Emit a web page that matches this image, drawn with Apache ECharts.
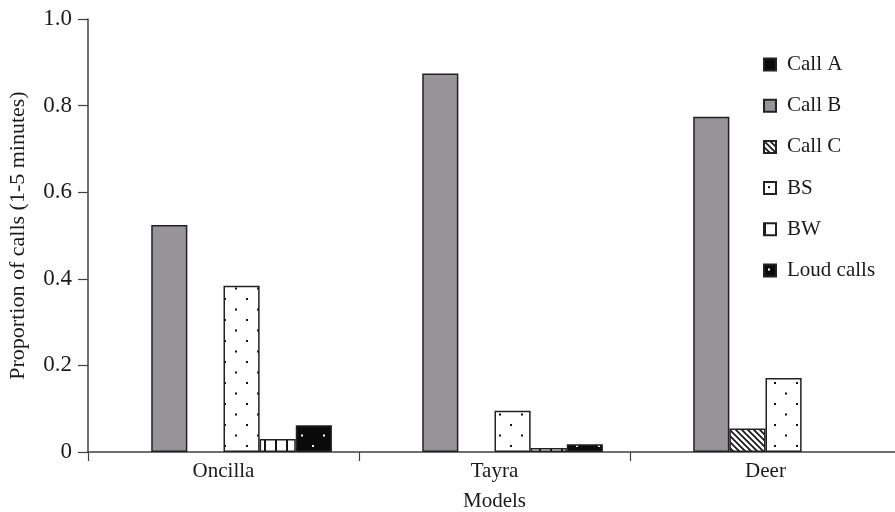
<!DOCTYPE html>
<html>
<head>
<meta charset="utf-8">
<script src="https://cdn.jsdelivr.net/npm/echarts@6/dist/echarts.min.js"></script>
<style>
html,body{margin:0;padding:0;background:#fff;}
#chart{width:895px;height:512px;}
</style>
</head>
<body>
<div id="chart"></div>
<script>
// ---- data ----
var categories = ['Oncilla', 'Tayra', 'Deer'];
var seriesNames = ['Call A', 'Call B', 'Call C', 'BS', 'BW', 'Loud calls'];
var callA = [0, 0, 0];
var callB = [0.524, 0.874, 0.774];
var callC = [0, 0, 0.054];
var bs = [0.384, 0.095, 0.171];
var bw = [0.030, 0.009, 0];
var loudCalls = [0.062, 0.018, 0];
var yTicks = [0, 0.2, 0.4, 0.6, 0.8, 1.0];

// ---- patterns ----
function makeTile(w, h, draw) {
  var c = document.createElement('canvas');
  c.width = w; c.height = h;
  var ctx = c.getContext('2d');
  draw(ctx, w, h);
  return { image: c, repeat: 'repeat' };
}
var patCallC = makeTile(6, 6, function (ctx, w, h) {
  ctx.fillStyle = '#fff'; ctx.fillRect(0, 0, w, h);
  ctx.strokeStyle = '#111'; ctx.lineWidth = 1.6;
  ctx.beginPath();
  ctx.moveTo(-1, -1); ctx.lineTo(w + 1, h + 1);
  ctx.moveTo(-1, h - 1); ctx.lineTo(1, h + 1);
  ctx.moveTo(w - 1, -1); ctx.lineTo(w + 1, 1);
  ctx.stroke();
});
var patBS = makeTile(22, 21, function (ctx, w, h) {
  ctx.fillStyle = '#fff'; ctx.fillRect(0, 0, w, h);
  ctx.fillStyle = '#111';
  ctx.fillRect(4, 4, 2, 2);
  ctx.fillRect(15, 14.5, 2, 2);
});
var patBW = makeTile(11, 10, function (ctx, w, h) {
  ctx.fillStyle = '#fff'; ctx.fillRect(0, 0, w, h);
  ctx.fillStyle = '#111';
  ctx.fillRect(0, 0, 2, h);
});
var patLoud = makeTile(22, 21, function (ctx, w, h) {
  ctx.fillStyle = '#0a0a0a'; ctx.fillRect(0, 0, w, h);
  ctx.fillStyle = '#fff';
  ctx.fillRect(4, 4, 2, 2);
  ctx.fillRect(15, 14.5, 2, 2);
});

var fills = ['#0a0a0a', '#969499', patCallC, patBS, patBW, patLoud];
var values = [callA, callB, callC, bs, bw, loudCalls];

var FONT = 'Liberation Serif';
var FS = 21;
var series = seriesNames.map(function (name, i) {
  return {
    name: name,
    type: 'bar',
    data: values[i].map(function (v) {
      return v === 0 ? { value: v, itemStyle: { borderWidth: 0 } } : v;
    }),
    barGap: '0%',
    barCategoryGap: '20%',
    itemStyle: {
      color: fills[i],
      borderColor: '#222',
      borderWidth: 1.5
    },
    emphasis: { disabled: true }
  };
});

var chart = echarts.init(document.getElementById('chart'), null, { renderer: 'canvas' });
chart.setOption({
  animation: false,
  backgroundColor: '#fff',
  textStyle: { fontFamily: FONT, color: '#1a1a1a' },
  grid: { left: 88, right: -6, top: 19, bottom: 60, containLabel: false, outerBoundsMode: 'none' },
  legend: {
    data: seriesNames,
    orient: 'vertical',
    left: 763,
    top: 54,
    padding: 0,
    itemWidth: 12,
    itemHeight: 12,
    itemGap: 20.2,
    icon: 'rect',
    textStyle: { fontFamily: FONT, fontSize: FS, color: '#1a1a1a', lineHeight: 21, padding: [0, 0, 0, 6] }
  },
  xAxis: {
    type: 'category',
    data: categories,
    name: 'Models',
    nameLocation: 'middle',
    nameGap: 39,
    nameTextStyle: { fontFamily: FONT, fontSize: FS, color: '#1a1a1a' },
    axisLine: { lineStyle: { color: '#404040', width: 1.5 } },
    axisTick: { show: true, length: 9, lineStyle: { color: '#404040', width: 1.2 } },
    axisLabel: { fontFamily: FONT, fontSize: FS, color: '#1a1a1a', margin: 9 }
  },
  yAxis: {
    type: 'value',
    min: 0,
    max: 1.0,
    interval: 0.2,
    name: 'Proportion of calls (1-5 minutes)',
    nameLocation: 'middle',
    nameGap: 59,
    nameTextStyle: { fontFamily: FONT, fontSize: 22, color: '#1a1a1a' },
    splitLine: { show: false },
    axisLine: { show: true, lineStyle: { color: '#404040', width: 1.5 } },
    axisTick: { show: true, length: 10, lineStyle: { color: '#404040', width: 1.2 } },
    axisLabel: {
      fontFamily: FONT, fontSize: 23, color: '#1a1a1a', margin: 16,
      formatter: function (v) {
        if (yTicks.indexOf(Math.round(v * 10) / 10) < 0) return '';
        return v === 0 ? '0' : v.toFixed(1);
      }
    }
  },
  series: series
});
</script>
</body>
</html>
